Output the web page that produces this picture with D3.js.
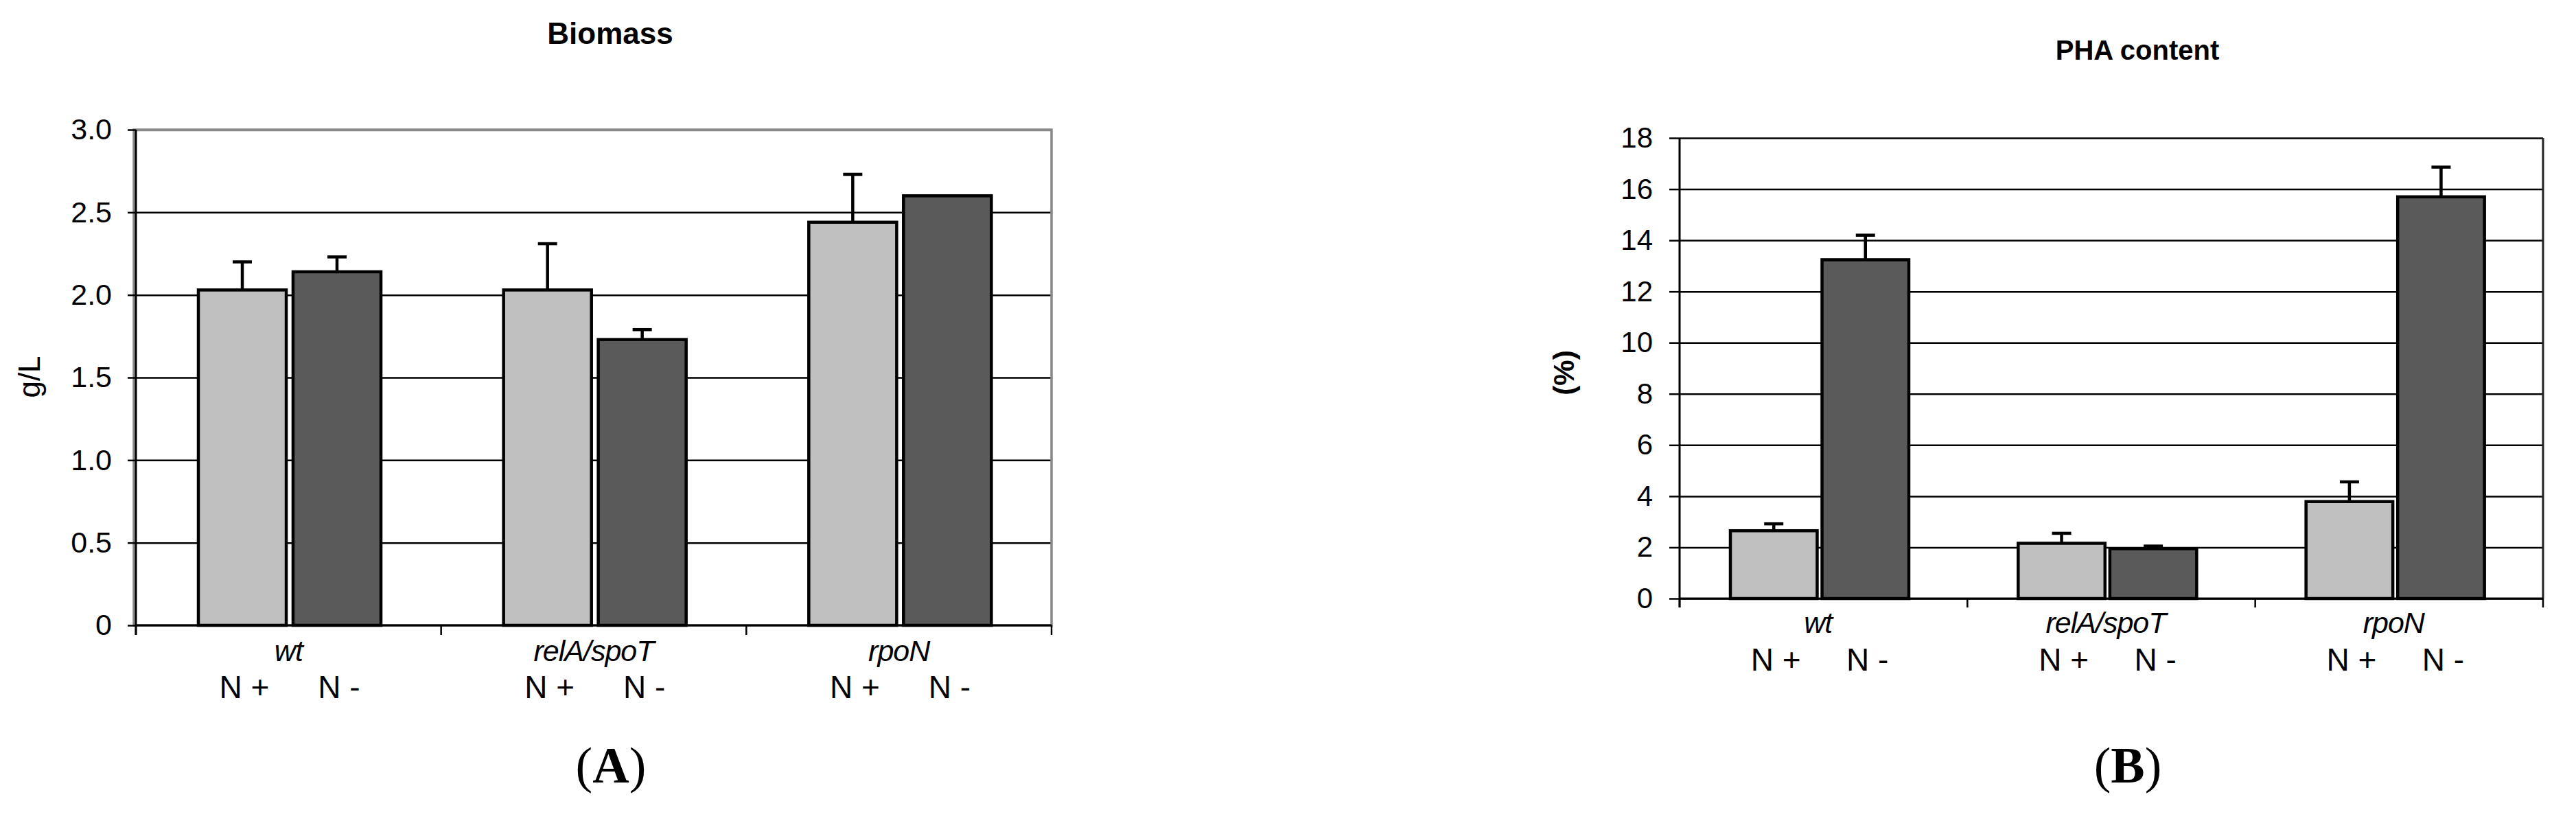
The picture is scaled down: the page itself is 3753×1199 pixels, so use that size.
<!DOCTYPE html>
<html><head><meta charset="utf-8">
<script src="https://cdn.jsdelivr.net/npm/d3@7"></script>
<style>body{margin:0;background:#fff}svg{display:block}</style>
</head><body>
<svg id="c" width="3753" height="1199"></svg>
<script>
// ---------- data ----------
const categories = ["wt", "relA/spoT", "rpoN"];
const seriesLabels = ["N +", "N -"];
const seriesColors = ["#c0c0c0", "#5a5a5a"];

const biomassNplus = [2.03, 2.03, 2.44];
const biomassNminus = [2.14, 1.73, 2.60];
const biomassErrNplus = [0.17, 0.28, 0.29];
const biomassErrNminus = [0.09, 0.06, 0];
const biomassTicks = [0, 0.5, 1.0, 1.5, 2.0, 2.5, 3.0];
const biomassTickLabels = ["0", "0.5", "1.0", "1.5", "2.0", "2.5", "3.0"];

const phaNplus = [2.65, 2.16, 3.79];
const phaNminus = [13.24, 1.95, 15.70];
const phaErrNplus = [0.27, 0.39, 0.77];
const phaErrNminus = [0.96, 0.10, 1.16];
const phaTicks = [0, 2, 4, 6, 8, 10, 12, 14, 16, 18];
const phaTickLabels = ["0", "2", "4", "6", "8", "10", "12", "14", "16", "18"];

// ---------- drawing ----------
const svg = d3.select("#c");
const FONT = "'Liberation Sans', Arial, sans-serif";

function drawPanel(p) {
  const g = svg.append("g");
  const x = d3.scaleBand().domain(categories).range([p.x0, p.x1]);
  const y = d3.scaleLinear().domain([0, p.max]).range([p.yBottom, p.yTop]);
  const xs = d3.scaleBand().domain([0, 1]).range([p.gLeft, p.gRight]).paddingInner(p.gap);

  // gridlines
  g.append("g").attr("transform", `translate(${p.x0},0)`)
    .call(d3.axisLeft(y).tickValues(p.ticks).tickSize(-(p.x1 - p.x0)).tickFormat(""))
    .call(s => s.select(".domain").remove())
    .call(s => s.selectAll(".tick line").attr("stroke", d => (p.grayTop && d === p.max) ? "#888" : "#000")
      .attr("stroke-width", d => (p.grayTop && d === p.max) ? 3.5 : 2.5));

  // frame
  if (p.grayFrame) {
    g.append("rect").attr("x", p.x0 - 3).attr("y", p.yTop).attr("width", p.x1 - p.x0 + 3)
      .attr("height", p.yBottom - p.yTop).attr("fill", "none").attr("stroke", "#888").attr("stroke-width", 3.5);
  } else {
    g.append("line").attr("x1", p.x1).attr("x2", p.x1).attr("y1", p.yTop).attr("y2", p.yBottom)
      .attr("stroke", "#222").attr("stroke-width", 3);
  }

  // bars
  const rows = categories.map((c, i) => [
    { c, s: 0, v: p.a[i], e: p.ae[i] },
    { c, s: 1, v: p.b[i], e: p.be[i] }
  ]).flat();

  g.selectAll("rect.bar").data(rows).join("rect").attr("class", "bar")
    .attr("x", d => x(d.c) + xs(d.s))
    .attr("width", xs.bandwidth())
    .attr("y", d => y(d.v))
    .attr("height", d => y(0) - y(d.v))
    .attr("fill", d => seriesColors[d.s])
    .attr("stroke", "#000").attr("stroke-width", 4.5);

  // error bars (upper only)
  const eb = rows.filter(d => d.e > 0);
  g.selectAll("line.err").data(eb).join("line").attr("class", "err")
    .attr("x1", d => x(d.c) + xs(d.s) + xs.bandwidth() / 2)
    .attr("x2", d => x(d.c) + xs(d.s) + xs.bandwidth() / 2)
    .attr("y1", d => y(d.v)).attr("y2", d => y(d.v + d.e))
    .attr("stroke", "#000").attr("stroke-width", 4.5);
  g.selectAll("line.cap").data(eb).join("line").attr("class", "cap")
    .attr("x1", d => x(d.c) + xs(d.s) + xs.bandwidth() / 2 - 14)
    .attr("x2", d => x(d.c) + xs(d.s) + xs.bandwidth() / 2 + 14)
    .attr("y1", d => y(d.v + d.e)).attr("y2", d => y(d.v + d.e))
    .attr("stroke", "#000").attr("stroke-width", 4.5);

  // y axis
  g.append("g").attr("transform", `translate(${p.x0},0)`)
    .call(d3.axisLeft(y).tickValues(p.ticks).tickSize(p.yTick).tickPadding(p.tickPad)
      .tickFormat((d, i) => p.tickLabels[i]))
    .call(s => s.select(".domain").remove())
    .call(s => s.selectAll(".tick line").attr("stroke", "#000").attr("stroke-width", 2.5))
    .call(s => s.selectAll(".tick text").attr("font-family", FONT).attr("font-size", p.tickFs).attr("fill", "#000"));
  g.append("line").attr("x1", p.x0).attr("x2", p.x0).attr("y1", p.yTop).attr("y2", p.yBottom + p.xTick)
    .attr("stroke", "#000").attr("stroke-width", 3);

  // x axis
  g.append("line").attr("x1", p.x0).attr("x2", p.x1).attr("y1", p.yBottom).attr("y2", p.yBottom)
    .attr("stroke", "#000").attr("stroke-width", 3);
  const bounds = categories.map(c => x(c)).concat([p.x1]);
  g.selectAll("line.xt").data(bounds).join("line").attr("class", "xt")
    .attr("x1", d => d).attr("x2", d => d).attr("y1", p.yBottom).attr("y2", p.yBottom + p.xTick)
    .attr("stroke", "#000").attr("stroke-width", 2.5);

  // category labels
  g.selectAll("text.cat").data(categories).join("text").attr("class", "cat")
    .attr("x", c => x(c) + x.bandwidth() / 2 + p.catDx).attr("y", p.catY)
    .attr("text-anchor", "middle").attr("font-family", FONT).attr("font-style", "italic")
    .attr("font-size", p.catFs).attr("letter-spacing", -1).text(c => c);

  // N+ / N- labels
  g.selectAll("text.ser").data(rows).join("text").attr("class", "ser")
    .attr("x", d => x(d.c) + xs(d.s) + xs.bandwidth() / 2 + 3).attr("y", p.serY)
    .attr("text-anchor", "middle").attr("font-family", FONT).attr("font-size", p.serFs)
    .text(d => seriesLabels[d.s]);

  // title
  g.append("text").attr("x", p.titleX).attr("y", p.titleY).attr("text-anchor", "middle")
    .attr("font-family", FONT).attr("font-weight", "bold").attr("font-size", p.titleFs).text(p.title);

  // y label
  g.append("text").attr("transform", `translate(${p.ylX},${p.ylY}) rotate(-90)`)
    .attr("text-anchor", "middle").attr("dominant-baseline", "central")
    .attr("font-family", FONT).attr("font-weight", p.ylBold ? "bold" : "normal")
    .attr("font-size", p.ylFs).text(p.ylabel);

  // panel letter
  const t = g.append("text").attr("x", p.letterX).attr("y", p.letterY).attr("text-anchor", "middle")
    .attr("font-family", "'Liberation Serif', 'Times New Roman', serif").attr("font-size", 74);
  t.append("tspan").text("(");
  t.append("tspan").attr("font-weight", "bold").text(p.letter);
  t.append("tspan").text(")");
}

drawPanel({
  x0: 198, x1: 1532, yTop: 189, yBottom: 911, max: 3.0,
  ticks: biomassTicks, tickLabels: biomassTickLabels,
  a: biomassNplus, b: biomassNminus, ae: biomassErrNplus, be: biomassErrNminus,
  gLeft: 91, gRight: 357, gap: 0.072,
  grayFrame: true, grayTop: true,
  yTick: 12, tickPad: 23, tickFs: 43, xTick: 14,
  catY: 963, catFs: 43, catDx: 0, serY: 1017, serFs: 46,
  title: "Biomass", titleX: 889, titleY: 64, titleFs: 44,
  ylabel: "g/L", ylX: 42, ylY: 549, ylFs: 44, ylBold: false,
  letter: "A", letterX: 890, letterY: 1140
});

drawPanel({
  x0: 2447, x1: 3705, yTop: 201, yBottom: 872, max: 18,
  ticks: phaTicks, tickLabels: phaTickLabels,
  a: phaNplus, b: phaNminus, ae: phaErrNplus, be: phaErrNminus,
  gLeft: 74, gRight: 334, gap: 0.053,
  grayFrame: false, grayTop: false,
  yTick: 15, tickPad: 24, tickFs: 42, xTick: 13,
  catY: 922, catFs: 43, catDx: -8, serY: 977, serFs: 46,
  title: "PHA content", titleX: 3114, titleY: 87, titleFs: 40,
  ylabel: "(%)", ylX: 2278, ylY: 543, ylFs: 42, ylBold: true,
  letter: "B", letterX: 3100, letterY: 1140
});
</script>
</body></html>
